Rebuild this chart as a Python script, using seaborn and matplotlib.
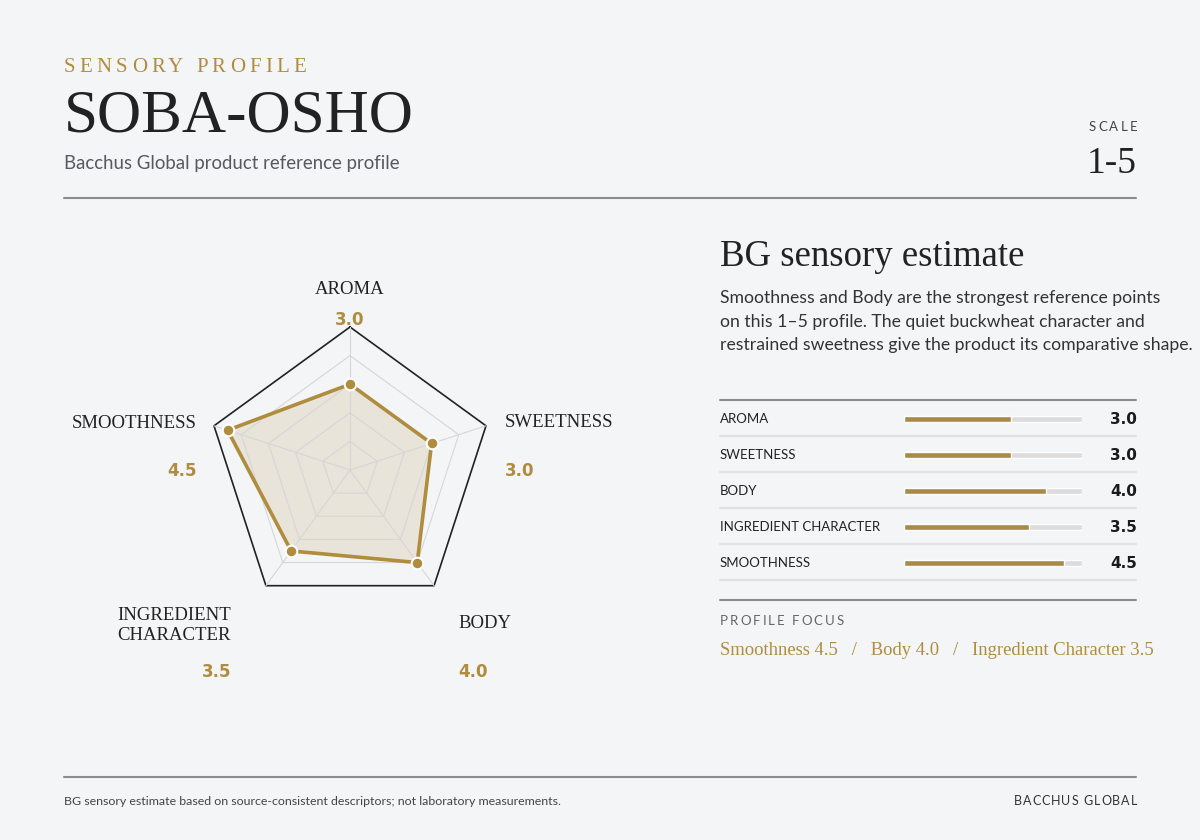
import numpy as np
import pandas as pd
import seaborn as sns
import matplotlib as mpl
mpl.use('Agg')
import matplotlib.pyplot as plt
from matplotlib.transforms import blended_transform_factory

# data
categories = ['AROMA', 'SWEETNESS', 'BODY', 'INGREDIENT CHARACTER', 'SMOOTHNESS']
radar_labels = ['AROMA', 'SWEETNESS', 'BODY', 'INGREDIENT\nCHARACTER', 'SMOOTHNESS']
scores = [3.0, 3.0, 4.0, 3.5, 4.5]
scale_max = 5
rings = [1, 2, 3, 4, 5]
focus = ['Smoothness 4.5', 'Body 4.0', 'Ingredient Character 3.5']

BG = '#f4f5f7'
GOLD = '#b08c3e'
BAR_GOLD = '#a8894a'
INK = '#222222'
GREY = '#555a5f'
RULE = '#8c8c8c'

SERIF = ['Liberation Serif', 'DejaVu Serif']
SANS = ['Lato', 'DejaVu Sans']
HEAVY = dict(family=['DejaVu Sans'], weight='bold')

sns.set_theme(style='white')
plt.rcParams['font.family'] = SANS

fig = plt.figure(figsize=(12, 8.4), dpi=100, facecolor=BG)

# page overlay in pixel units
page = fig.add_axes([0, 0, 1, 1])
page.set_xlim(0, 1200)
page.set_ylim(840, 0)
page.axis('off')
page.patch.set_alpha(0)


def spaced(ax, x, y, s, track, ha='left', **kw):
    """text with letter spacing, in pixel units of the page axes"""
    r = fig.canvas.get_renderer()

    def w(t):
        if not t.strip():
            return 0
        tt = ax.text(0, 0, t, **kw)
        bb = tt.get_window_extent(renderer=r)
        tt.remove()
        return bb.width

    total = w(s) + track * (len(s) - 1)
    x0 = x - total if ha == 'right' else x
    for i, ch in enumerate(s):
        if ch == ' ':
            continue
        pos = w(s[:i + 1]) - w(ch) + i * track
        ax.text(x0 + pos, y, ch, ha='left', **kw)


# header
spaced(page, 64, 72, 'SENSORY PROFILE', 4.2, family=SERIF, fontsize=15, color=GOLD, va='baseline')
page.text(64, 132, 'SOBA-OSHO', family=SERIF, fontsize=44, color=INK, va='baseline')
page.text(64, 169, 'Bacchus Global product reference profile', fontsize=13.4, color=GREY, va='baseline')
spaced(page, 1137, 131, 'SCALE', 2.2, ha='right', fontsize=9.5, color='#444444', va='baseline')
page.text(1137, 173, '1-5', family=SERIF, fontsize=27, color=INK, ha='right', va='baseline')
page.plot([64, 1136], [198, 198], color=RULE, lw=1.5)

# right panel text
page.text(720, 266, 'BG sensory estimate', family=SERIF, fontsize=26.5, color=INK, va='baseline')
para = ['Smoothness and Body are the strongest reference points',
        'on this 1\u20135 profile. The quiet buckwheat character and',
        'restrained sweetness give the product its comparative shape.']
for i, line in enumerate(para):
    page.text(720, 303 + i * 23.5, line, fontsize=12.7, color='#333333', va='baseline')
page.plot([720, 1136], [400, 400], color=RULE, lw=1.5)
page.plot([720, 1136], [600, 600], color=RULE, lw=1.5)
spaced(page, 720, 625, 'PROFILE FOCUS', 2.0, fontsize=9.5, color='#666666', va='baseline')
page.text(720, 655, '   /   '.join(focus), family=SERIF, fontsize=13.4, color=GOLD, va='baseline')

# footer
page.plot([64, 1136], [777, 777], color=RULE, lw=1.5)
page.text(64, 805, 'BG sensory estimate based on source-consistent descriptors; not laboratory measurements.',
          fontsize=8.9, color='#444444', va='baseline')
spaced(page, 1137, 805, 'BACCHUS GLOBAL', 1.0, ha='right', fontsize=9, color='#333333', va='baseline')

# bar table
bx = fig.add_axes([904 / 1200, (840 - 581) / 840, 178 / 1200, 180 / 840])
bx.patch.set_alpha(0)
df = pd.DataFrame({'category': categories, 'score': scores, 'full': [scale_max] * len(scores)})
sns.barplot(data=df, x='full', y='category', orient='h', color='#dcdcdc', width=0.14, ax=bx, saturation=1)
sns.barplot(data=df, x='score', y='category', orient='h', color=BAR_GOLD, width=0.14, ax=bx, saturation=1)
bx.set_xlim(0, scale_max)
bx.set_ylim(len(categories) - 0.5, -0.5)
bx.axis('off')
tr = blended_transform_factory(bx.transAxes, bx.transData)
for i, (c, v) in enumerate(zip(categories, scores)):
    bx.text(-1.034, i, c, transform=tr, fontsize=9.5, color=INK, va='center')
    bx.text(1.309, i, f'{v:.1f}', transform=tr, fontsize=11, color='#1a1a1a',
            ha='right', va='center', **HEAVY)
    bx.plot([-1.034, 1.304], [i + 0.47, i + 0.47], transform=tr, color='#e1e2e4',
            lw=1.6, clip_on=False)

# radar
rx = fig.add_axes([150 / 1200, (840 - 670) / 840, 400 / 1200, 400 / 840])
rx.patch.set_alpha(0)
lim = 200 / 143 * scale_max
rx.set_xlim(-lim, lim)
rx.set_ylim(-lim, lim)
rx.axis('off')

ang = np.deg2rad(90 - 72 * np.arange(len(categories)))
ux, uy = np.cos(ang), np.sin(ang)
for r in rings:
    col, lw = ('#222222', 1.2) if r == scale_max else ('#d6d6d6', 0.8)
    rx.plot(np.append(ux, ux[0]) * r, np.append(uy, uy[0]) * r, color=col, lw=lw, zorder=2)
for x, y in zip(ux, uy):
    rx.plot([0, x * scale_max], [0, y * scale_max], color='#d6d6d6', lw=0.8, zorder=2)

sv = np.array(scores)
px, py = ux * sv, uy * sv
rx.fill(px, py, color=GOLD, alpha=0.16, lw=0, zorder=1)
rx.plot(np.append(px, px[0]), np.append(py, py[0]), color=GOLD, lw=2.6, zorder=3)
sns.scatterplot(x=px, y=py, ax=rx, color=GOLD, s=70, edgecolor='white', linewidth=1.5, zorder=4)

# label offsets in pixels: ha, dx, label dy, value dy (up positive)
lab_pos = [('center', 0, 38, 7), ('left', 19, 3, -45), ('left', 24, -38, -86),
           ('right', -35, -40, -86), ('right', -17, 2, -45)]
for i, (lab, v) in enumerate(zip(radar_labels, scores)):
    ha, dx, dl, dv = lab_pos[i]
    vx, vy = ux[i] * scale_max, uy[i] * scale_max
    rx.annotate(lab, (vx, vy), xytext=(dx * 0.72, dl * 0.72), textcoords='offset points',
                ha=ha, va='center', family=SERIF, fontsize=13.5, color=INK,
                multialignment='right', linespacing=1.25)
    rx.annotate(f'{v:.1f}', (vx, vy), xytext=(dx * 0.72, dv * 0.72), textcoords='offset points',
                ha=ha, va='center', fontsize=12, color=GOLD, zorder=5, **HEAVY)

fig.savefig('out.png', dpi=100, facecolor=BG)
